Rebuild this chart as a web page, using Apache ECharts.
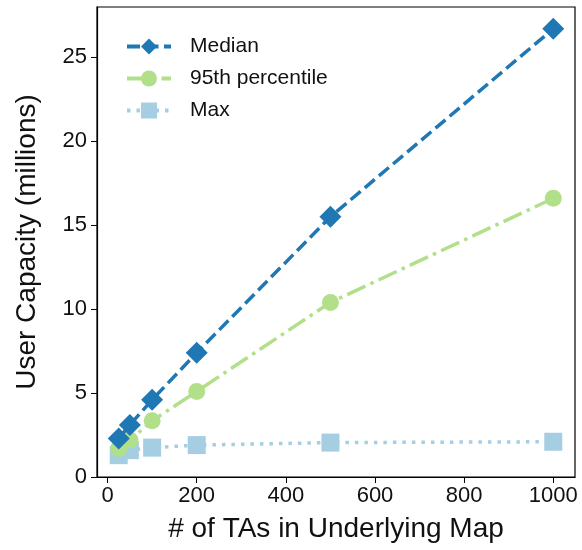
<!DOCTYPE html>
<html><head><meta charset="utf-8">
<script src="https://cdn.jsdelivr.net/npm/echarts@6/dist/echarts.min.js"></script>
<style>html,body{margin:0;padding:0;background:#fff}#c{width:582px;height:550px}</style>
</head><body><div id="c"></div>
<script>
const xVals = [25, 50, 100, 200, 500, 1000];
const median = [2.3, 3.1, 4.6, 7.4, 15.5, 26.7];
const p95 = [1.7, 2.2, 3.35, 5.1, 10.4, 16.6];
const maxv = [1.3, 1.6, 1.75, 1.9, 2.05, 2.1];
const xTicks = [0, 200, 400, 600, 800, 1000];
const yTicks = [0, 5, 10, 15, 20, 25];
const names = ['Median', '95th percentile', 'Max'];

const font = 'Liberation Sans, Arial, sans-serif';
const chart = echarts.init(document.getElementById('c'));
function pts(ys){ return xVals.map((x,i)=>[x, ys[i]]); }
chart.setOption({
  animation: false,
  grid: {left: 97, right: 7, top: 7, bottom: 73, show: true, borderColor: '#000', borderWidth: 1.2,
         containLabel: false, outerBoundsMode: 'none'},
  legend: {
    left: 120, top: 31, orient: 'vertical', itemWidth: 44, itemHeight: 20, itemGap: 11,
    textStyle: {fontFamily: font, fontSize: 21, color: '#111', padding: [0,0,0,14]},
    data: [
      {name: names[0], lineStyle: {width: 4}},
      {name: names[1], lineStyle: {width: 4}},
      {name: names[2], lineStyle: {width: 4}}
    ]
  },
  xAxis: {
    type: 'value', min: -23.75, max: 1048.75,
    name: '# of TAs in Underlying Map', nameLocation: 'middle', nameGap: 38,
    nameTextStyle: {fontFamily: font, fontSize: 28, color: '#111'},
    axisLine: {show: true, onZero: false, lineStyle: {color: '#000', width: 1.2}},
    axisTick: {show: true, length: 6, customValues: xTicks, lineStyle: {color: '#000'}},
    axisLabel: {customValues: xTicks, fontFamily: font, fontSize: 22, color: '#111', margin: 8,
      formatter: v => String(v)},
    splitLine: {show: false}
  },
  yAxis: {
    type: 'value', min: 0, max: 28,
    name: 'User Capacity (millions)', nameLocation: 'middle', nameGap: 56,
    nameTextStyle: {fontFamily: font, fontSize: 28, color: '#111'},
    axisLine: {show: true, onZero: false, lineStyle: {color: '#000', width: 1.2}},
    axisTick: {show: true, length: 6, customValues: yTicks, lineStyle: {color: '#000'}},
    axisLabel: {customValues: yTicks, fontFamily: font, fontSize: 22, color: '#111', margin: 10},
    splitLine: {show: false}
  },
  series: [
    {name: names[0], type: 'line', data: pts(median), symbol: 'diamond', symbolSize: 22,
     itemStyle: {color: '#1f78b4'}, lineStyle: {color: '#1f78b4', width: 3.5, type: [13, 5.5]}, z: 4},
    {name: names[1], type: 'line', data: pts(p95), symbol: 'circle', symbolSize: 17,
     itemStyle: {color: '#b2df8a'}, lineStyle: {color: '#b2df8a', width: 3.5, type: [20, 5.5, 3.5, 5.5]}, z: 3},
    {name: names[2], type: 'line', data: pts(maxv), symbol: 'rect', symbolSize: 18,
     itemStyle: {color: '#a6cee3'}, lineStyle: {color: '#a6cee3', width: 3.5, type: [3.5, 6]}, z: 2}
  ]
});
</script></body></html>
